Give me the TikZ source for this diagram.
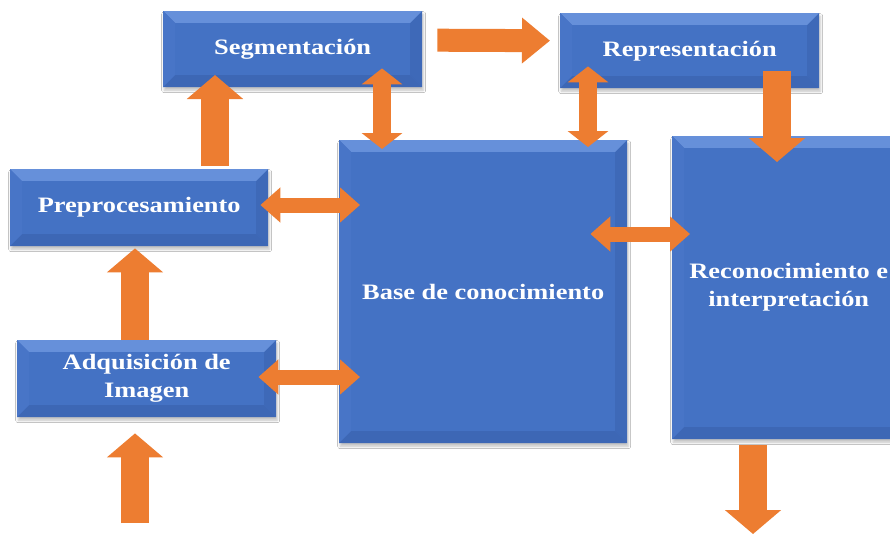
\documentclass[tikz,border=0pt]{standalone}
\usepackage{fontspec}
\newfontfamily\lbl{Liberation Serif}[FakeStretch=1.2]
\usetikzlibrary{arrows.meta,calc,shadows.blur}
\definecolor{boxblue}{HTML}{4472C4}
\definecolor{bevtop}{HTML}{6690DA}
\definecolor{bevleft}{HTML}{4875C7}
\definecolor{bevright}{HTML}{3E69B8}
\definecolor{bevbot}{HTML}{3D67B5}
\definecolor{arrorange}{HTML}{ED7D31}
\tikzset{
  box/.style={fill=boxblue, draw=none, inner sep=0pt, anchor=north west,
    text=white, font=\lbl\bfseries\fontsize{22}{28}\selectfont, align=center,
    blur shadow={shadow xshift=1pt, shadow yshift=-3pt, shadow blur radius=2.5pt, shadow opacity=25},
    path picture={
      \coordinate (bnw) at (path picture bounding box.north west);
      \coordinate (bne) at (path picture bounding box.north east);
      \coordinate (bsw) at (path picture bounding box.south west);
      \coordinate (bse) at (path picture bounding box.south east);
      \fill[bevtop] (bnw) -- (bne) -- ([shift={(-12pt,-12pt)}]bne) -- ([shift={(12pt,-12pt)}]bnw) -- cycle;
      \fill[bevleft] (bnw) -- ([shift={(12pt,-12pt)}]bnw) -- ([shift={(12pt,12pt)}]bsw) -- (bsw) -- cycle;
      \fill[bevright] (bne) -- ([shift={(-12pt,-12pt)}]bne) -- ([shift={(-12pt,12pt)}]bse) -- (bse) -- cycle;
      \fill[bevbot] (bsw) -- ([shift={(12pt,12pt)}]bsw) -- ([shift={(-12pt,12pt)}]bse) -- (bse) -- cycle;
      \fill[boxblue] ([shift={(12pt,-12pt)}]bnw) rectangle ([shift={(-12pt,12pt)}]bse);
    }},
  bigarrow/.style={draw=arrorange, line width=28pt, -{Triangle[length=24pt,width=55pt]}},
  flatarrow/.style={draw=arrorange, line width=23pt, -{Triangle[length=28pt,width=44pt]}},
  vdbl/.style={draw=arrorange, line width=18pt, {Triangle[length=16pt,width=40pt]}-{Triangle[length=16pt,width=40pt]}},
  hdbl/.style={draw=arrorange, line width=15pt, {Triangle[length=20pt,width=34pt]}-{Triangle[length=20pt,width=34pt]}}
}
\begin{document}
\begin{tikzpicture}[x=1pt,y=-1pt]
\useasboundingbox (0,0) rectangle (890,535);
\clip (0,0) rectangle (890,535);
\fill[white] (0,0) rectangle (890,535);

% boxes
\node[box, minimum width=259pt, minimum height=76pt] (seg) at (163,11) {Segmentación};
\node[box, minimum width=259pt, minimum height=75pt] (rep) at (560,13) {Representación};
\node[box, minimum width=258pt, minimum height=77pt] (pre) at (10,169) {Preprocesamiento};
\node[box, minimum width=259pt, minimum height=77pt] (adq) at (17,340) {Adquisición de\\Imagen};
\node[box, minimum width=288pt, minimum height=303pt] (base) at (339,140) {Base de conocimiento};
\node[box, minimum width=233pt, minimum height=303pt] (reco) at (672,136) {Reconocimiento e\\interpretación};

% free ends
\coordinate (in) at (135,523);
\coordinate (out) at (753,534);

% single arrows
\draw[bigarrow] (in) -- ($(in |- adq.south)+(0,16)$);
\draw[bigarrow] (adq.north -| in) -- ($(in |- pre.south)+(0,2)$);
\draw[bigarrow] ($(pre.north west)+(205,-3)$) -- ($(pre.north west)+(205,-94)$);
\draw[flatarrow] ($(seg.east)+(15,-9)$) -- ($(rep.west)+(-10,-10)$);
\draw[bigarrow] ($(rep.south west)+(217,-17)$) -- ($(reco.north west)+(105,26)$);
\draw[bigarrow] ($(reco.south west)+(81,6)$) -- (out);

% double arrows
\draw[vdbl] ($(seg.south west)+(219,-19)$) -- ($(base.north west)+(43,9)$);
\draw[vdbl] ($(rep.south west)+(28,-22)$) -- ($(base.north west)+(249,7)$);
\draw[hdbl] ($(pre.north east)+(-8,36)$) -- ($(base.north west)+(21,65)$);
\draw[hdbl] ($(adq.north east)+(-18,37)$) -- ($(base.north west)+(21,237)$);
\draw[hdbl] ($(base.north east)+(-37,94)$) -- ($(reco.north west)+(18,98)$);
\end{tikzpicture}
\end{document}
